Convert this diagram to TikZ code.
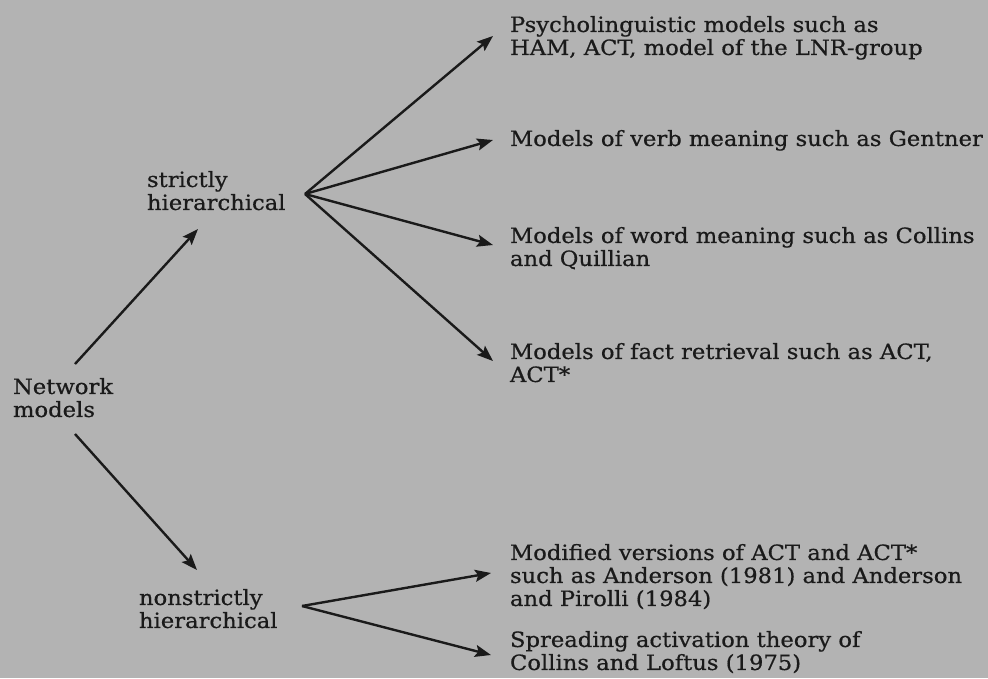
\documentclass[tikz,border=0pt]{standalone}
\usepackage{fontspec}
\setmainfont{DejaVu Serif}[FakeStretch=1.08, FakeBold=0.6]
\usetikzlibrary{arrows.meta}
\definecolor{bg}{HTML}{B3B3B3}
\definecolor{ink}{HTML}{1A1A1A}
\tikzset{
  txt/.style={anchor=north west, inner sep=0pt, outer sep=0pt, align=left, text=ink,
              font=\fontsize{21}{23}\selectfont},
  arr/.style={draw=ink, line width=2.4pt,
              -{Stealth[length=16pt,width=12pt,inset=3pt]}},
}
\begin{document}
\begin{tikzpicture}[x=1pt,y=-1pt]
\fill[bg] (0,0) rectangle (988,678);
\useasboundingbox (0,0) rectangle (988,678);

% left column
\node[txt] (net) at (13,378) {Network\\models};
\node[txt] (sh)  at (147,171) {strictly\\hierarchical};
\node[txt] (nsh) at (139,589) {nonstrictly\\hierarchical};

% right column
\node[txt] (psy)  at (510,16)  {Psycholinguistic models such as\\HAM, ACT, model of the LNR-group};
\node[txt] (verb) at (510,130) {Models of verb meaning such as Gentner};
\node[txt] (word) at (510,227) {Models of word meaning such as Collins\\and Quillian};
\node[txt] (fact) at (510,343) {Models of fact retrieval such as ACT,\\ACT*};
\node[txt] (mod)  at (510,544) {Modified versions of ACT and ACT*\\such as Anderson (1981) and Anderson\\and Pirolli (1984)};
\node[txt] (spr)  at (510,631) {Spreading activation theory of\\Collins and Loftus (1975)};

% fan origins
\coordinate (shout)  at ([xshift=158pt,yshift=-23pt]sh.north west);
\coordinate (nshout) at ([xshift=163pt,yshift=-17pt]nsh.north west);

% connectors
\draw[arr] ([xshift=62pt,yshift=14pt]net.north west) -- ([xshift=51pt,yshift=-58pt]sh.north west);
\draw[arr] ([xshift=62pt,yshift=-56pt]net.north west) -- ([xshift=58pt,yshift=19pt]nsh.north west);

\draw[arr] (shout) -- ([xshift=-17pt,yshift=-20pt]psy.north west);
\draw[arr] (shout) -- ([xshift=-17pt,yshift=-10pt]verb.north west);
\draw[arr] (shout) -- ([xshift=-17pt,yshift=-18pt]word.north west);
\draw[arr] (shout) -- ([xshift=-17pt,yshift=-18pt]fact.north west);

\draw[arr] (nshout) -- ([xshift=-19pt,yshift=-29pt]mod.north west);
\draw[arr] (nshout) -- ([xshift=-19pt,yshift=-24pt]spr.north west);
\end{tikzpicture}
\end{document}
